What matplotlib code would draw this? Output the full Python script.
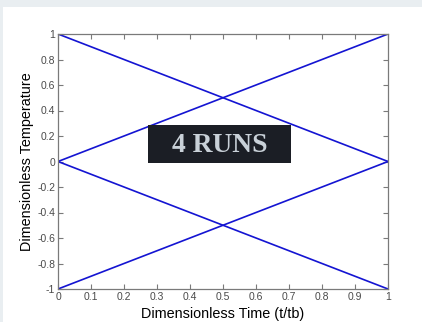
import numpy as np
import matplotlib
matplotlib.use('Agg')
import matplotlib.pyplot as plt
from matplotlib.patches import Rectangle

# four runs, each a straight temperature ramp over dimensionless time
t = [0.0, 1.0]
runs = [
    [1.0, 0.0],
    [0.0, 1.0],
    [0.0, -1.0],
    [-1.0, 0.0],
]
x_ticks = [0, 0.1, 0.2, 0.3, 0.4, 0.5, 0.6, 0.7, 0.8, 0.9, 1]
x_tick_labels = ['0', '0.1', '0.2', '0.3', '0.4', '0.5', '0.6', '0.7', '0.8', '0.9', '1']
y_ticks = [-1, -0.8, -0.6, -0.4, -0.2, 0, 0.2, 0.4, 0.6, 0.8, 1]
y_tick_labels = ['-1', '-0.8', '-0.6', '-0.4', '-0.2', '0', '0.2', '0.4', '0.6', '0.8', '1']

plt.rcParams['font.family'] = ['Liberation Sans', 'DejaVu Sans']

fig = plt.figure(figsize=(4.22, 3.22), dpi=100)
fig.patch.set_facecolor('white')
# light frame strips along the top and left edges
fig.patches.append(Rectangle((0, 1 - 7 / 322), 1, 7 / 322, transform=fig.transFigure,
                             facecolor='#e9eef1', edgecolor='none', zorder=0))
fig.patches.append(Rectangle((0, 0), 3 / 422, 1, transform=fig.transFigure,
                             facecolor='#e9eef1', edgecolor='none', zorder=0))

ax = fig.add_axes([58 / 422, 1 - 289 / 322, 330 / 422, 255 / 322])
for y in runs:
    ax.plot(t, y, color='#1414d2', lw=1.2)

ax.set_xlim(0, 1)
ax.set_ylim(-1, 1)
ax.set_xticks(x_ticks)
ax.set_xticklabels(x_tick_labels)
ax.set_yticks(y_ticks)
ax.set_yticklabels(y_tick_labels)
ax.tick_params(direction='in', length=3.5, width=0.8, color='#7a7a7a',
               labelsize=7.5, labelcolor='#4a4a4a', top=True, right=True, pad=2)
for s in ax.spines.values():
    s.set_color('#7a7a7a')
    s.set_linewidth(0.9)

ax.set_xlabel('Dimensionless Time (t/tb)', fontsize=10.4, labelpad=3.5)
ax.set_ylabel('Dimensionless Temperature', fontsize=10.4, labelpad=2)

# caption box inside the axes
fig.patches.append(Rectangle((148 / 422, 1 - 163 / 322), 143 / 422, 38 / 322,
                             transform=fig.transFigure, facecolor='#1b1e25',
                             edgecolor='none', zorder=5))
fig.text(220 / 422, 1 - 145 / 322, '4 RUNS', ha='center', va='center',
         family='Liberation Serif', fontweight='bold', fontsize=19.8,
         color='#c9d1d8', zorder=6)

fig.savefig('out.png', dpi=100)
